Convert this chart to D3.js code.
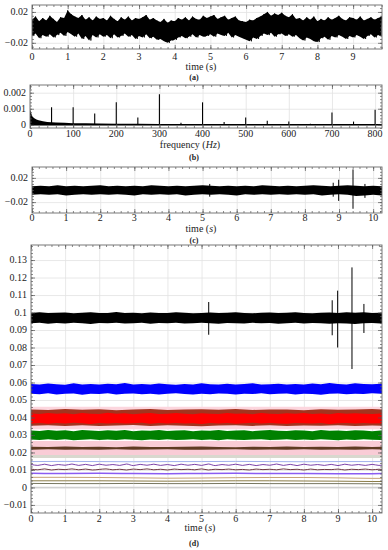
<!DOCTYPE html>
<html>
<head>
<meta charset="utf-8">
<script src="https://cdn.jsdelivr.net/npm/d3@7"></script>
<style>
body { margin: 0; background: #fff; }
svg text { font-family: "Liberation Serif", "Times New Roman", "DejaVu Serif", serif !important; fill: #222; }
.grid line { stroke: #e2e2e2; stroke-width: 0.8; }
.tk line { stroke: #555; stroke-width: 0.7; }
</style>
</head>
<body>
<svg id="fig" width="388" height="550" font-family="Liberation Serif, serif"></svg>
<script>
// ---- (a) vibration signal, upper / lower peaks every 0.1 s
const aStep = 0.1;
const aHi = [0.010,0.014,0.008,0.012,0.009,0.015,0.011,0.007,0.013,0.012,
  0.022,0.017,0.014,0.012,0.016,0.010,0.013,0.009,0.014,0.011,
  0.012,0.009,0.015,0.011,0.008,0.013,0.010,0.014,0.009,0.012,
  0.011,0.013,0.016,0.010,0.012,0.009,0.007,0.011,0.006,0.009,
  0.008,0.012,0.010,0.013,0.009,0.014,0.011,0.010,0.015,0.012,
  0.014,0.016,0.011,0.013,0.015,0.010,0.012,0.014,0.009,0.008,
  0.007,0.010,0.009,0.012,0.014,0.017,0.020,0.015,0.018,0.016,
  0.019,0.015,0.013,0.017,0.011,0.012,0.009,0.013,0.010,0.014,
  0.008,0.011,0.009,0.013,0.010,0.012,0.015,0.011,0.009,0.013,
  0.012,0.010,0.014,0.009,0.011,0.013,0.010,0.012,0.014];
const aLo = [-0.011,-0.008,-0.014,-0.010,-0.012,-0.009,-0.013,-0.010,-0.007,-0.011,
  -0.006,-0.009,-0.012,-0.008,-0.015,-0.011,-0.017,-0.010,-0.013,-0.009,
  -0.012,-0.010,-0.014,-0.009,-0.013,-0.011,-0.008,-0.012,-0.010,-0.015,
  -0.011,-0.013,-0.009,-0.014,-0.012,-0.016,-0.015,-0.018,-0.020,-0.017,
  -0.016,-0.013,-0.011,-0.014,-0.012,-0.009,-0.013,-0.010,-0.012,-0.011,
  -0.009,-0.012,-0.008,-0.010,-0.011,-0.007,-0.013,-0.010,-0.012,-0.014,
  -0.016,-0.018,-0.013,-0.015,-0.011,-0.008,-0.010,-0.007,-0.012,-0.009,
  -0.008,-0.011,-0.009,-0.012,-0.010,-0.014,-0.017,-0.013,-0.015,-0.018,
  -0.019,-0.014,-0.012,-0.016,-0.011,-0.013,-0.010,-0.012,-0.015,-0.011,
  -0.013,-0.010,-0.012,-0.015,-0.011,-0.009,-0.013,-0.010,-0.012];

// ---- (b) spectrum: noise floor envelope and line peaks
const bFloorF = [0,2,4,6,8,10,15,20,30,40,50,60,80,100,130,160,200,250,300,400,500,600,700,816];
const bFloorV = [0.00095,0.0008,0.00062,0.0005,0.00045,0.0004,0.00033,0.00028,0.00022,0.00018,0.00016,0.00014,
  0.00012,0.0001,0.00009,0.00008,0.00007,0.00006,0.00005,0.00004,0.00004,0.00003,0.00003,0.00003];
const bPeakF = [50,100,150,200,250,300,350,400,450,500,550,600,650,700,750,800];
const bPeakV = [0.0011,0.0011,0.0007,0.0014,0.00046,0.0019,0.00012,0.0014,0.00017,0.00046,0.00025,0.0002,0.00006,0.00077,0.0002,0.00094];

// ---- (c) filtered signal, envelope every 0.25 s, plus transient spikes
const cStep = 0.25;
const cHi = [0.006,0.007,0.006,0.008,0.006,0.007,0.006,0.007,0.008,0.006,
  0.007,0.006,0.007,0.006,0.008,0.007,0.006,0.007,0.006,0.007,
  0.008,0.007,0.006,0.007,0.006,0.007,0.006,0.008,0.007,0.006,
  0.007,0.006,0.007,0.008,0.007,0.006,0.007,0.008,0.007,0.006,
  0.007,0.006,0.007];
const cLo = [-0.008,-0.007,-0.008,-0.007,-0.009,-0.008,-0.007,-0.008,-0.007,-0.008,
  -0.007,-0.008,-0.009,-0.007,-0.008,-0.007,-0.008,-0.007,-0.009,-0.008,
  -0.007,-0.008,-0.007,-0.008,-0.009,-0.007,-0.008,-0.007,-0.008,-0.007,
  -0.008,-0.007,-0.008,-0.007,-0.009,-0.008,-0.007,-0.008,-0.010,-0.009,
  -0.008,-0.009,-0.008];
const cSpikeT = [5.21, 8.83, 8.99, 9.41, 9.76];
const cSpikeHi = [0.010, 0.012, 0.017, 0.034, 0.010];
const cSpikeLo = [-0.011, -0.011, -0.018, -0.031, -0.013];

// ---- (d) decomposed channels, envelope every 0.25 s
const dStep = 0.25;
const dBlackHi = [0.0998,0.1001,0.0997,0.0999,0.1000,0.0996,0.0999,0.1002,0.0998,0.0997,
  0.1003,0.0998,0.0999,0.0996,0.1000,0.0998,0.0997,0.1001,0.0999,0.0996,
  0.0998,0.1000,0.0997,0.0999,0.1002,0.0998,0.0996,0.0999,0.1000,0.0997,
  0.0999,0.1001,0.0998,0.0996,0.0999,0.1000,0.0997,0.1001,0.0999,0.1002,
  0.0998,0.0999,0.1000];
const dBlackLo = [0.0938,0.0941,0.0936,0.0940,0.0937,0.0942,0.0939,0.0935,0.0940,0.0938,
  0.0941,0.0937,0.0939,0.0942,0.0936,0.0940,0.0938,0.0941,0.0937,0.0939,
  0.0942,0.0938,0.0936,0.0940,0.0939,0.0937,0.0941,0.0938,0.0940,0.0936,
  0.0939,0.0941,0.0937,0.0940,0.0938,0.0936,0.0939,0.0937,0.0935,0.0938,
  0.0940,0.0937,0.0939];
const dSpikeT = [5.21, 8.83, 8.99, 9.41, 9.76];
const dSpikeHi = [0.106, 0.107, 0.1125, 0.1258, 0.1049];
const dSpikeLo = [0.0873, 0.087, 0.080, 0.0677, 0.0883];

const dBlueHi = [0.0591,0.0588,0.0594,0.0590,0.0587,0.0596,0.0589,0.0592,0.0588,0.0593,
  0.0590,0.0597,0.0589,0.0591,0.0588,0.0594,0.0590,0.0587,0.0592,0.0589,
  0.0595,0.0590,0.0588,0.0593,0.0589,0.0591,0.0596,0.0588,0.0590,0.0593,
  0.0589,0.0592,0.0588,0.0594,0.0590,0.0597,0.0591,0.0589,0.0595,0.0592,
  0.0590,0.0593,0.0591];
const dBlueLo = [0.0536,0.0533,0.0538,0.0531,0.0535,0.0537,0.0530,0.0536,0.0534,0.0538,
  0.0532,0.0535,0.0537,0.0533,0.0536,0.0531,0.0535,0.0538,0.0534,0.0532,
  0.0536,0.0533,0.0537,0.0535,0.0531,0.0536,0.0534,0.0538,0.0533,0.0535,
  0.0537,0.0532,0.0536,0.0534,0.0530,0.0535,0.0537,0.0533,0.0536,0.0534,
  0.0538,0.0535,0.0534];

const dRedHi = [0.0423,0.0420,0.0426,0.0421,0.0424,0.0419,0.0425,0.0422,0.0420,0.0427,
  0.0421,0.0424,0.0419,0.0423,0.0426,0.0420,0.0422,0.0425,0.0421,0.0419,
  0.0424,0.0422,0.0420,0.0426,0.0421,0.0423,0.0419,0.0425,0.0422,0.0420,
  0.0424,0.0421,0.0426,0.0420,0.0423,0.0419,0.0425,0.0421,0.0424,0.0422,
  0.0420,0.0423,0.0422];
const dRedLo = [0.0366,0.0369,0.0364,0.0368,0.0365,0.0370,0.0367,0.0363,0.0368,0.0366,
  0.0369,0.0365,0.0367,0.0370,0.0364,0.0368,0.0366,0.0369,0.0365,0.0367,
  0.0363,0.0368,0.0366,0.0369,0.0364,0.0367,0.0370,0.0365,0.0368,0.0366,
  0.0364,0.0369,0.0367,0.0365,0.0368,0.0363,0.0367,0.0369,0.0365,0.0368,
  0.0366,0.0367,0.0368];

const dGreenHi = [0.0326,0.0323,0.0328,0.0324,0.0327,0.0322,0.0329,0.0325,0.0323,0.0327,
  0.0324,0.0328,0.0322,0.0326,0.0324,0.0329,0.0323,0.0325,0.0327,0.0322,
  0.0326,0.0324,0.0328,0.0323,0.0325,0.0327,0.0322,0.0326,0.0329,0.0324,
  0.0323,0.0327,0.0325,0.0322,0.0328,0.0324,0.0326,0.0323,0.0327,0.0325,
  0.0322,0.0326,0.0324];
const dGreenLo = [0.0274,0.0271,0.0275,0.0272,0.0276,0.0270,0.0273,0.0275,0.0271,0.0274,
  0.0272,0.0276,0.0273,0.0270,0.0274,0.0272,0.0275,0.0271,0.0273,0.0276,
  0.0272,0.0274,0.0270,0.0275,0.0273,0.0271,0.0274,0.0276,0.0272,0.0273,
  0.0275,0.0271,0.0274,0.0272,0.0276,0.0273,0.0270,0.0274,0.0272,0.0275,
  0.0273,0.0271,0.0274];

// thinner noisy channels, envelope every 0.5 s
const dHalfStep = 0.5;
const dMaroonHi = [0.0446,0.0443,0.0448,0.0444,0.0447,0.0442,0.0446,0.0449,0.0443,0.0445,0.0447,
  0.0444,0.0448,0.0443,0.0446,0.0445,0.0442,0.0447,0.0444,0.0446,0.0448,0.0445];
const dMaroonLo = [0.0353,0.0356,0.0352,0.0355,0.0351,0.0354,0.0357,0.0352,0.0355,0.0353,0.0350,
  0.0354,0.0356,0.0352,0.0355,0.0351,0.0354,0.0353,0.0356,0.0352,0.0354,0.0353];
const dBrownHi = [0.0233,0.0231,0.0234,0.0232,0.0233,0.0230,0.0234,0.0232,0.0231,0.0233,0.0234,
  0.0232,0.0230,0.0233,0.0232,0.0234,0.0231,0.0233,0.0232,0.0234,0.0231,0.0233];
const dBrownLo = [0.0216,0.0218,0.0215,0.0217,0.0216,0.0219,0.0215,0.0217,0.0218,0.0216,0.0215,
  0.0217,0.0219,0.0216,0.0217,0.0215,0.0218,0.0216,0.0217,0.0215,0.0218,0.0216];

// pale background channels [low, high]
const dPaleLo = [0.0333, 0.0186, 0.0169];
const dPaleHi = [0.0462, 0.0265, 0.0186];
const dPaleColor = ['#fcd6de', '#f9ccd6', '#d8d8ce'];

// smooth low-frequency channels
const dWaveStep = 0.2;
const dPurple = [0.0132,0.0126,0.0133,0.0125,0.0131,0.0127,0.0134,0.0126,0.0132,0.0125,
  0.0133,0.0127,0.0131,0.0126,0.0134,0.0125,0.0132,0.0127,0.0133,0.0126,
  0.0131,0.0125,0.0133,0.0127,0.0132,0.0126,0.0134,0.0125,0.0131,0.0127,
  0.0133,0.0126,0.0132,0.0125,0.0131,0.0127,0.0134,0.0126,0.0132,0.0125,
  0.0133,0.0127,0.0131,0.0126,0.0132,0.0125,0.0133,0.0127,0.0131,0.0126,
  0.0132,0.0126,0.0131];
const dDarkWave = [0.0105,0.0101,0.0106,0.0100,0.0104,0.0102,0.0106,0.0101,0.0105,0.0100,
  0.0103,0.0106,0.0101,0.0104,0.0100,0.0105,0.0102,0.0106,0.0101,0.0104,
  0.0100,0.0105,0.0102,0.0104,0.0101,0.0106,0.0100,0.0104,0.0102,0.0105,
  0.0101,0.0103,0.0100,0.0105,0.0102,0.0104,0.0101,0.0106,0.0102,0.0104,
  0.0100,0.0105,0.0101,0.0103,0.0102,0.0105,0.0100,0.0104,0.0102,0.0105,
  0.0101,0.0104,0.0102];
const dSlowStep = 1;
const dLightBlue = [0.0148,0.0149,0.0148,0.0147,0.0148,0.0148,0.0149,0.0148,0.0147,0.0148,0.0148,0.0148];
const dViolet = [0.0081,0.0080,0.0081,0.0080,0.0079,0.0080,0.0081,0.0080,0.0080,0.0079,0.0079,0.0080];
const dTan = [0.0058,0.0058,0.0057,0.0055,0.0053,0.0054,0.0056,0.0057,0.0057,0.0055,0.0052,0.0052];
const dOlive = [0.0038,0.0038,0.0038,0.0037,0.0036,0.0037,0.0038,0.0038,0.0037,0.0036,0.0034,0.0034];
const dGray = [0.0023,0.0022,0.0022,0.0023,0.0022,0.0022,0.0023,0.0022,0.0022,0.0022,0.0021,0.0021];
const dZero = [0,0,0,0,0,0,0,0,0,0,0,0];

const SERIF = '"Liberation Serif", "Times New Roman", serif';
const svg = d3.select('#fig');
const defs = svg.append('defs');

function fmt(v) {
  if (Math.abs(v) < 1e-12) return '0';
  return String(+v.toFixed(4)).replace('-', '\u2212');
}

/**
 * set up a framed panel: grid, clip and scales
 */
function panel(o) {
  const x = d3.scaleLinear().domain(o.xDomain).range([o.left, o.right]);
  const y = d3.scaleLinear().domain(o.yDomain).range([o.bottom, o.top]);
  const w = o.right - o.left, h = o.bottom - o.top;
  const g = svg.append('g');
  g.append('g').attr('class', 'grid')
    .attr('transform', 'translate(0,' + o.bottom + ')')
    .call(d3.axisBottom(x).tickValues(o.xTicks).tickSize(-h).tickFormat(''))
    .call(s => s.select('.domain').remove());
  g.append('g').attr('class', 'grid')
    .attr('transform', 'translate(' + o.left + ',0)')
    .call(d3.axisLeft(y).tickValues(o.yTicks).tickSize(-w).tickFormat(''))
    .call(s => s.select('.domain').remove());
  defs.append('clipPath').attr('id', o.id)
    .append('rect').attr('x', o.left).attr('y', o.top).attr('width', w).attr('height', h);
  const plot = g.append('g').attr('clip-path', 'url(#' + o.id + ')');
  return {x, y, plot, o};
}

/**
 * frame, inward ticks on all four sides, labels and caption
 */
function frame(P) {
  const {x, y, o} = P;
  const g = svg.append('g').attr('font-family', SERIF);
  const minX = d3.range(o.xDomain[0], o.xDomain[1], o.xMinor);
  const minY = d3.range(Math.ceil(o.yDomain[0] / o.yMinor) * o.yMinor, o.yDomain[1], o.yMinor);
  const sides = [
    [() => d3.axisBottom(x), 'translate(0,' + o.bottom + ')', o.xTicks, minX],
    [() => d3.axisTop(x), 'translate(0,' + o.top + ')', o.xTicks, minX],
    [() => d3.axisLeft(y), 'translate(' + o.left + ',0)', o.yTicks, minY],
    [() => d3.axisRight(y), 'translate(' + o.right + ',0)', o.yTicks, minY]
  ];
  sides.forEach(([ax, tr, major, minor]) => {
    g.append('g').attr('class', 'tk').attr('transform', tr)
      .call(ax().tickValues(minor).tickSize(-2).tickFormat(''))
      .call(s => s.select('.domain').remove());
    g.append('g').attr('class', 'tk').attr('transform', tr)
      .call(ax().tickValues(major).tickSize(-4).tickFormat(''))
      .call(s => s.select('.domain').remove());
  });
  g.append('rect')
    .attr('x', o.left).attr('y', o.top)
    .attr('width', o.right - o.left).attr('height', o.bottom - o.top)
    .attr('fill', 'none').attr('stroke', '#6a6a6a').attr('stroke-width', 0.9);

  g.selectAll(null).data(o.xTicks).join('text')
    .attr('x', d => x(d)).attr('y', o.xLabelY)
    .attr('text-anchor', 'middle').attr('font-size', 10).attr('font-family', SERIF)
    .text(d => fmt(d));
  g.selectAll(null).data(o.yTicks).join('text')
    .attr('x', o.left - 4).attr('y', d => y(d)).attr('dy', '0.33em')
    .attr('text-anchor', 'end').attr('font-size', 10).attr('font-family', SERIF)
    .text(d => fmt(d));

  const t = g.append('text').attr('x', o.titleX).attr('y', o.titleY)
    .attr('text-anchor', 'middle').attr('font-size', 10).attr('font-family', SERIF);
  o.title.forEach(([s, it]) => t.append('tspan').attr('font-style', it ? 'italic' : 'normal').text(s));

  g.append('text').attr('x', 194).attr('y', o.capY)
    .attr('text-anchor', 'middle').attr('font-size', 8).attr('font-weight', 'bold')
    .attr('font-family', SERIF)
    .text(o.caption);
}

function band(P, hi, lo, step, color) {
  const area = d3.area()
    .x((d, i) => P.x(i * step))
    .y0((d, i) => P.y(lo[i]))
    .y1(d => P.y(d));
  P.plot.append('path').datum(hi).attr('d', area).attr('fill', color);
}

function trace(P, vals, step, color, width, curve) {
  const line = d3.line()
    .curve(curve || d3.curveLinear)
    .x((d, i) => P.x(i * step))
    .y(d => P.y(d));
  P.plot.append('path').datum(vals).attr('d', line)
    .attr('fill', 'none').attr('stroke', color).attr('stroke-width', width);
}

function spikes(P, ts, hi, lo, width) {
  P.plot.selectAll(null).data(ts).join('line')
    .attr('x1', d => P.x(d)).attr('x2', d => P.x(d))
    .attr('y1', (d, i) => P.y(hi[i])).attr('y2', (d, i) => P.y(lo[i]))
    .attr('stroke', '#000').attr('stroke-width', width);
}

// ================= (a)
const A = panel({
  id: 'clipA', left: 32, right: 382, top: 5, bottom: 49,
  xDomain: [0, 9.81], yDomain: [-0.028, 0.029],
  xTicks: d3.range(0, 10, 1), yTicks: [-0.02, 0.02],
  xMinor: 0.2, yMinor: 0.005, xLabelY: 60,
  title: [['time (s)', false]], titleX: 201, titleY: 70, caption: '(a)', capY: 80
});
band(A, aHi, aLo, aStep, '#000');
{
  // peaks alternate: upper at each sample, lower half a step later
  const pts = [];
  aHi.forEach((v, i) => {
    pts.push([i * aStep, v]);
    pts.push([i * aStep + aStep / 2, aLo[i]]);
  });
  A.plot.append('path').datum(pts)
    .attr('d', d3.line().x(d => A.x(d[0])).y(d => A.y(d[1])))
    .attr('fill', 'none').attr('stroke', '#000').attr('stroke-width', 0.8);
}
frame(A);

// ================= (b)
const B = panel({
  id: 'clipB', left: 30, right: 382, top: 85, bottom: 128,
  xDomain: [0, 816], yDomain: [-0.0002, 0.00248],
  xTicks: d3.range(0, 801, 100), yTicks: [0, 0.001, 0.002],
  xMinor: 20, yMinor: 0.0002, xLabelY: 136.5,
  title: [['frequency (', false], ['Hz', true], [')', false]], titleX: 190, titleY: 148,
  caption: '(b)', capY: 160
});
B.plot.append('path').datum(bFloorV)
  .attr('d', d3.area().x((d, i) => B.x(bFloorF[i])).y0(B.y(0)).y1(d => B.y(d)))
  .attr('fill', '#000');
B.plot.append('line')
  .attr('x1', B.x(0)).attr('x2', B.x(816)).attr('y1', B.y(0)).attr('y2', B.y(0))
  .attr('stroke', '#000').attr('stroke-width', 1.5);
B.plot.selectAll(null).data(bPeakF).join('line')
  .attr('x1', d => B.x(d)).attr('x2', d => B.x(d))
  .attr('y1', B.y(0)).attr('y2', (d, i) => B.y(bPeakV[i]))
  .attr('stroke', '#000').attr('stroke-width', 1.1);
frame(B);

// ================= (c)
const C = panel({
  id: 'clipC', left: 32, right: 382, top: 167, bottom: 213,
  xDomain: [0, 10.26], yDomain: [-0.038, 0.038],
  xTicks: d3.range(0, 11, 1), yTicks: [-0.02, 0.02],
  xMinor: 0.2, yMinor: 0.005, xLabelY: 221,
  title: [['time (', false], ['s', true], [')', false]], titleX: 201, titleY: 232,
  caption: '(c)', capY: 243
});
band(C, cHi, cLo, cStep, '#000');
spikes(C, cSpikeT, cSpikeHi, cSpikeLo, 1);
frame(C);

// ================= (d)
const D = panel({
  id: 'clipD', left: 31, right: 382, top: 245, bottom: 513,
  xDomain: [0, 10.29], yDomain: [-0.0146, 0.1386],
  xTicks: d3.range(0, 11, 1),
  yTicks: [-0.01,0,0.01,0.02,0.03,0.04,0.05,0.06,0.07,0.08,0.09,0.1,0.11,0.12,0.13],
  xMinor: 0.2, yMinor: 0.002, xLabelY: 521.5,
  title: [['time (', false], ['s', true], [')', false]], titleX: 200, titleY: 531,
  caption: '(d)', capY: 546
});
dPaleLo.forEach((lo, i) => {
  D.plot.append('path').datum([0, 10.29])
    .attr('d', d3.area().x(d => D.x(d)).y0(D.y(lo)).y1(D.y(dPaleHi[i])))
    .attr('fill', dPaleColor[i]);
});
band(D, dMaroonHi, dMaroonLo, dHalfStep, '#a3341f');
band(D, dRedHi, dRedLo, dStep, '#ff0000');
band(D, dGreenHi, dGreenLo, dStep, '#008000');
band(D, dBrownHi, dBrownLo, dHalfStep, '#5e3a22');
band(D, dBlueHi, dBlueLo, dStep, '#0000ff');
band(D, dBlackHi, dBlackLo, dStep, '#000');
spikes(D, dSpikeT, dSpikeHi, dSpikeLo, 1);

trace(D, dLightBlue, dSlowStep, '#97a8ea', 0.9);
trace(D, dPurple, dWaveStep, '#6d2c9e', 0.9, d3.curveMonotoneX);
trace(D, dDarkWave, dWaveStep, '#5c1f2c', 0.9, d3.curveMonotoneX);
trace(D, dViolet, dSlowStep, '#8a5cf2', 1.5, d3.curveMonotoneX);
trace(D, dTan, dSlowStep, '#c7a276', 1, d3.curveMonotoneX);
trace(D, dOlive, dSlowStep, '#8a7c46', 1, d3.curveMonotoneX);
trace(D, dGray, dSlowStep, '#77775f', 1, d3.curveMonotoneX);
trace(D, dZero, dSlowStep, '#d0d0d0', 1.5);
frame(D);
</script>
</body>
</html>
